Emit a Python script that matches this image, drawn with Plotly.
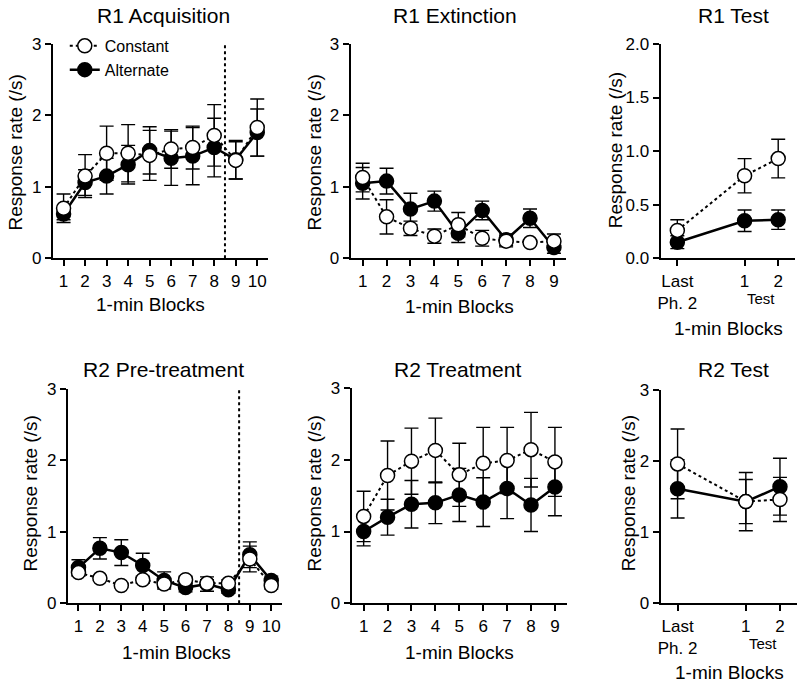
import plotly.graph_objects as go

# ---------------- data ----------------
acq_blocks = [1, 2, 3, 4, 5, 6, 7, 8, 9, 10]
acq_const = [0.70, 1.15, 1.47, 1.47, 1.44, 1.53, 1.55, 1.72, 1.37, 1.83]
acq_const_err = [0.20, 0.30, 0.38, 0.40, 0.35, 0.27, 0.30, 0.43, 0.26, 0.40]
acq_alt = [0.62, 1.06, 1.15, 1.31, 1.51, 1.40, 1.43, 1.55, 1.38, 1.76]
acq_alt_err = [0.08, 0.18, 0.25, 0.27, 0.33, 0.38, 0.40, 0.41, 0.27, 0.33]

ext_blocks = [1, 2, 3, 4, 5, 6, 7, 8, 9]
ext_const = [1.13, 0.58, 0.42, 0.31, 0.47, 0.28, 0.24, 0.22, 0.24]
ext_const_err = [0.20, 0.24, 0.10, 0.10, 0.17, 0.11, 0.08, 0.04, 0.10]
ext_alt = [1.05, 1.08, 0.69, 0.80, 0.35, 0.67, 0.26, 0.56, 0.15]
ext_alt_err = [0.22, 0.18, 0.22, 0.14, 0.13, 0.13, 0.08, 0.13, 0.08]

test_labels = ["Last<br>Ph. 2", "1", "2"]
r1test_const = [0.26, 0.77, 0.93]
r1test_const_err = [0.10, 0.16, 0.18]
r1test_alt = [0.15, 0.35, 0.36]
r1test_alt_err = [0.06, 0.10, 0.09]

pre_blocks = [1, 2, 3, 4, 5, 6, 7, 8, 9, 10]
pre_const = [0.43, 0.35, 0.25, 0.33, 0.27, 0.33, 0.28, 0.28, 0.62, 0.25]
pre_const_err = [0.05, 0.03, 0.03, 0.05, 0.05, 0.05, 0.05, 0.05, 0.18, 0.05]
pre_alt = [0.50, 0.77, 0.71, 0.53, 0.32, 0.22, 0.27, 0.19, 0.68, 0.32]
pre_alt_err = [0.11, 0.15, 0.18, 0.17, 0.12, 0.06, 0.10, 0.05, 0.18, 0.06]

treat_blocks = [1, 2, 3, 4, 5, 6, 7, 8, 9]
treat_const = [1.21, 1.78, 1.98, 2.13, 1.79, 1.95, 1.99, 2.14, 1.97]
treat_const_err = [0.35, 0.48, 0.46, 0.45, 0.44, 0.50, 0.46, 0.52, 0.48]
treat_alt = [1.00, 1.20, 1.38, 1.40, 1.51, 1.41, 1.60, 1.37, 1.62]
treat_alt_err = [0.20, 0.25, 0.33, 0.29, 0.37, 0.34, 0.42, 0.37, 0.40]

r2test_const = [1.96, 1.43, 1.46]
r2test_const_err = [0.49, 0.41, 0.31]
r2test_alt = [1.61, 1.43, 1.64]
r2test_alt_err = [0.41, 0.31, 0.40]

# ---------------- layout constants ----------------
W, H = 800, 685
FONT = "Liberation Sans, Arial, Helvetica, sans-serif"
TEST_X = [1, 3, 4]
PHASE_BREAK = 8.5


def fx(px):
    return px / W


def fy(py):
    # vertical placement with a small empirical correction
    py = (py - 8.0) / 0.975
    return 1 - py / H


panels = [
    dict(title="R1 Acquisition", xd=(50, 266), yd=(43, 258), x=acq_blocks, c=acq_const, ce=acq_const_err,
         a=acq_alt, ae=acq_alt_err, xr=[0.5, 10.5], yr=[0, 3], dt=1, tv=acq_blocks, tt=[str(v) for v in acq_blocks],
         tpos=(161, 15), ypos=(13, 152), xpos=(148, 304), brk=True),
    dict(title="R1 Extinction", xd=(349, 565), yd=(43, 258), x=ext_blocks, c=ext_const, ce=ext_const_err,
         a=ext_alt, ae=ext_alt_err, xr=[0.5, 9.5], yr=[0, 3], dt=1, tv=ext_blocks, tt=[str(v) for v in ext_blocks],
         tpos=(454, 15), ypos=(313, 152), xpos=(458, 306), brk=False),
    dict(title="R1 Test", xd=(660, 795), yd=(43, 258), x=TEST_X, c=r1test_const, ce=r1test_const_err,
         a=r1test_alt, ae=r1test_alt_err, xr=[0.5, 4.5], yr=[0, 2], dt=0.5, tv=TEST_X, tt=test_labels,
         tpos=(733, 15), ypos=(615, 150), xpos=(728, 328), brk=False, test=True),
    dict(title="R2 Pre-treatment", xd=(65, 280), yd=(389, 604), x=pre_blocks, c=pre_const, ce=pre_const_err,
         a=pre_alt, ae=pre_alt_err, xr=[0.5, 10.5], yr=[0, 3], dt=1, tv=pre_blocks, tt=[str(v) for v in pre_blocks],
         tpos=(161, 370), ypos=(28, 494), xpos=(174, 653), brk=True),
    dict(title="R2 Treatment", xd=(350, 566), yd=(388, 604), x=treat_blocks, c=treat_const, ce=treat_const_err,
         a=treat_alt, ae=treat_alt_err, xr=[0.5, 9.5], yr=[0, 3], dt=1, tv=treat_blocks, tt=[str(v) for v in treat_blocks],
         tpos=(456, 370), ypos=(313, 494), xpos=(458, 653), brk=False),
    dict(title="R2 Test", xd=(660, 797), yd=(390, 604), x=TEST_X, c=r2test_const, ce=r2test_const_err,
         a=r2test_alt, ae=r2test_alt_err, xr=[0.5, 4.5], yr=[0, 3], dt=1, tv=TEST_X, tt=test_labels,
         tpos=(733, 370), ypos=(628, 494), xpos=(729, 673), brk=False, test=True),
]

fig = go.Figure()
annotations = []
shapes = []


def label(text, px, py, size=19, angle=0):
    return dict(text=text, x=fx(px), y=fy(py), xref="paper", yref="paper", xanchor="center",
                yanchor="middle", showarrow=False, textangle=angle,
                font=dict(family=FONT, size=size, color="black"))


for i, p in enumerate(panels, start=1):
    xa = "x" if i == 1 else f"x{i}"
    ya = "y" if i == 1 else f"y{i}"
    err_style = dict(type="data", thickness=1.4, width=7, color="black")
    fig.add_trace(go.Scatter(
        x=p["x"], y=p["a"], xaxis=xa, yaxis=ya, mode="lines+markers", name="Alternate",
        line=dict(color="black", width=2.5),
        marker=dict(symbol="circle", size=14, color="black", line=dict(color="black", width=1.5)),
        error_y=dict(array=p["ae"], **err_style),
        showlegend=(i == 1), legendrank=2, cliponaxis=False))
    fig.add_trace(go.Scatter(
        x=p["x"], y=p["c"], xaxis=xa, yaxis=ya, mode="lines+markers", name="Constant",
        line=dict(color="black", width=2, dash="dot"),
        marker=dict(symbol="circle", size=14, color="white", line=dict(color="black", width=1.5)),
        error_y=dict(array=p["ce"], **err_style),
        showlegend=(i == 1), legendrank=1, cliponaxis=False))

    axis_common = dict(showline=True, linecolor="black", linewidth=2, ticks="outside", ticklen=6,
                       tickwidth=2, tickcolor="black", showgrid=False, zeroline=False,
                       tickfont=dict(family=FONT, size=17, color="black"))
    xkey = "xaxis" if i == 1 else f"xaxis{i}"
    ykey = "yaxis" if i == 1 else f"yaxis{i}"
    fig.layout[xkey] = dict(domain=[fx(p["xd"][0]), fx(p["xd"][1])], anchor=ya, range=p["xr"],
                            tickmode="array", tickvals=p["tv"], ticktext=p["tt"], **axis_common)
    fig.layout[ykey] = dict(domain=[fy(p["yd"][1]), fy(p["yd"][0])], anchor=xa, range=p["yr"],
                            dtick=p["dt"], tick0=0, tickformat=".1f" if p["dt"] < 1 else "d", **axis_common)

    annotations.append(label(p["title"], *p["tpos"], size=21))
    annotations.append(label("Response rate (/s)", *p["ypos"], angle=-90))
    annotations.append(label("1-min Blocks", *p["xpos"]))
    if p.get("test"):
        annotations.append(dict(text="Test", x=(TEST_X[1] + TEST_X[2]) / 2, xref=xa, xanchor="center",
                                y=fy(p["yd"][1] + 40), yref="paper", yanchor="middle", showarrow=False,
                                font=dict(family=FONT, size=15, color="black")))
    if p["brk"]:
        shapes.append(dict(type="line", xref=xa, yref=ya, x0=PHASE_BREAK, x1=PHASE_BREAK, y0=0, y1=p["yr"][1],
                           line=dict(color="black", width=2, dash="dot")))

fig.update_layout(
    width=W, height=H, margin=dict(l=0, r=0, t=0, b=0),
    paper_bgcolor="white", plot_bgcolor="white",
    font=dict(family=FONT, color="black"),
    annotations=annotations, shapes=shapes,
    legend=dict(x=fx(62), y=fy(28), xanchor="left", yanchor="top", bgcolor="rgba(0,0,0,0)",
                font=dict(family=FONT, size=16, color="black"), itemwidth=30, traceorder="normal"),
)

fig.write_html("out.html", config={"displayModeBar": False},
               post_script="document.body.style.margin='0';document.body.style.padding='0';")
